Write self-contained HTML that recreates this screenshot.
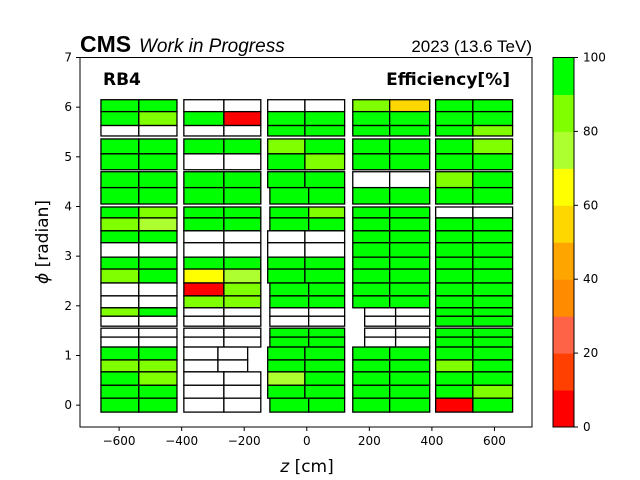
<!DOCTYPE html>
<html><head><meta charset="utf-8"><style>
body{margin:0;background:#fff;}
svg{display:block;font-family:"DejaVu Sans","Liberation Sans",sans-serif;}
</style></head><body>
<svg id="chart" width="640" height="480" viewBox="0 0 640 480" xmlns="http://www.w3.org/2000/svg">
<rect x="0" y="0" width="640" height="480" fill="#fff"/>
<g id="cells"></g>
<rect x="80" y="57.5" width="452" height="369.5" fill="none" stroke="#000" stroke-width="1"/>
<g id="axes"></g>
<text x="80" y="52" font-family="Liberation Sans, sans-serif" font-weight="bold" font-size="23">CMS</text>
<text x="139" y="52" font-family="Liberation Sans, sans-serif" font-style="italic" font-size="19">Work in Progress</text>
<text x="532" y="52" text-anchor="end" font-family="Liberation Sans, sans-serif" font-size="17">2023 (13.6 TeV)</text>
<text x="103" y="85" font-weight="bold" font-size="17">RB4</text>
<text x="510" y="85" text-anchor="end" font-weight="bold" font-size="17">Efficiency[%]</text>
<text x="307" y="472" text-anchor="middle" font-size="17"><tspan font-style="italic">z</tspan> [cm]</text>
<text transform="translate(48,242) rotate(-90)" text-anchor="middle" font-size="17"><tspan font-style="italic">ϕ</tspan> [radian]</text>
<g id="cbar"></g>
</svg>
<script>
const NS="http://www.w3.org/2000/svg";
const xTicks=[-600,-400,-200,0,200,400,600];
const yTicks=[0,1,2,3,4,5,6,7];
const cbTicks=[0,20,40,60,80,100];
const binColors=["#ff0000","#ff4000","#ff6347","#ff8c00","#ffa500","#ffd700","#ffff00","#adff2f","#7fff00","#00ff00"];
const wheelZ=[[-658,-537,-415],[-393,-265,-147],[-125,-6,121],[147,265,393],[412,531,658]];
// rows: [phiLo, phiHi, effLeft, effRight, optional zL, zM, zR] ; null = no data (white)
const wheel1=[[5.91,6.15,95,95],[5.63,5.91,95,85],[5.42,5.63,null,null],[5.06,5.36,95,95],[4.74,5.06,95,95],[4.38,4.70,95,95],[4.05,4.38,95,95],[3.77,3.99,95,85],[3.51,3.77,85,75],[3.27,3.51,95,95],[2.98,3.27,null,null],[2.74,2.98,95,95],[2.46,2.74,85,95],[2.20,2.46,null,null],[1.96,2.20,null,null],[1.79,1.96,85,95],[1.59,1.79,null,null],[1.37,1.55,null,null],[1.17,1.37,null,null],[0.91,1.17,95,95],[0.67,0.91,85,85],[0.40,0.67,95,85],[0.14,0.40,95,95],[-0.14,0.14,95,95]];
const wheel2=[[5.91,6.15,null,null],[5.63,5.91,95,5],[5.42,5.63,null,null],[5.06,5.36,95,95],[4.74,5.06,null,null],[4.38,4.70,95,95],[4.05,4.38,95,95],[3.77,3.99,95,95],[3.51,3.77,95,95],[3.27,3.51,null,null],[2.98,3.27,null,null],[2.74,2.98,95,95],[2.46,2.74,65,75],[2.20,2.46,5,85],[1.96,2.20,85,85],[1.79,1.96,null,null],[1.59,1.79,null,null],[1.37,1.55,null,null],[1.17,1.37,null,null],[0.91,1.17,null,null,-393,-284,-189],[0.67,0.91,null,null,-393,-284,-189],[0.40,0.67,null,null],[0.14,0.40,null,null],[-0.14,0.14,null,null]];
const wheel3=[[5.91,6.15,null,null],[5.63,5.91,95,95],[5.42,5.63,95,95],[5.06,5.36,85,95],[4.74,5.06,95,85],[4.38,4.70,95,95],[4.05,4.38,95,95,-118,6,121],[3.77,3.99,95,85,-118,6,121],[3.51,3.77,95,95,-118,6,121],[3.27,3.51,null,null],[2.98,3.27,null,null],[2.74,2.98,95,95],[2.46,2.74,95,95],[2.20,2.46,95,95,-118,6,121],[1.96,2.20,95,95,-118,6,121],[1.79,1.96,null,null,-118,6,121],[1.59,1.79,null,null,-118,6,121],[1.37,1.55,95,95,-118,6,121],[1.17,1.37,95,95,-118,6,121],[0.91,1.17,95,95],[0.67,0.91,95,95],[0.40,0.67,75,95],[0.14,0.40,95,95],[-0.14,0.14,95,95,-118,6,121]];
const wheel4=[[5.91,6.15,85,55],[5.63,5.91,95,95],[5.42,5.63,95,95],[5.06,5.36,95,95],[4.74,5.06,95,95],[4.38,4.70,null,null],[4.05,4.38,95,95],[3.77,3.99,95,95],[3.51,3.77,95,95],[3.27,3.51,95,95],[2.98,3.27,95,95],[2.74,2.98,95,95],[2.46,2.74,95,95],[2.20,2.46,95,95],[1.96,2.20,95,95],[1.79,1.96,null,null,185,284,393],[1.59,1.79,null,null,185,284,393],[1.37,1.55,null,null,185,284,393],[1.17,1.37,null,null,185,284,393],[0.91,1.17,95,95],[0.67,0.91,95,95],[0.40,0.67,95,95],[0.14,0.40,95,95],[-0.14,0.14,95,95]];
const wheel5=[[5.91,6.15,95,95],[5.63,5.91,95,95],[5.42,5.63,95,85],[5.06,5.36,95,85],[4.74,5.06,95,95],[4.38,4.70,85,95],[4.05,4.38,95,95],[3.77,3.99,null,null],[3.51,3.77,95,95],[3.27,3.51,95,95],[2.98,3.27,95,95],[2.74,2.98,95,95],[2.46,2.74,95,95],[2.20,2.46,95,95],[1.96,2.20,95,95],[1.79,1.96,95,95],[1.59,1.79,95,95],[1.37,1.55,95,95],[1.17,1.37,95,95],[0.91,1.17,95,95],[0.67,0.91,85,95],[0.40,0.67,95,95],[0.14,0.40,95,85],[-0.14,0.14,5,95]];
const wheels=[wheel1,wheel2,wheel3,wheel4,wheel5];

const X0=80,X1=532,Y0=57.5,Y1=427;
const xMin=-725,xMax=720,yMin=-0.44,yMax=7;
const sx=v=>X0+(v-xMin)/(xMax-xMin)*(X1-X0);
const sy=v=>Y1-(v-yMin)/(yMax-yMin)*(Y1-Y0);
const color=e=>e==null?"#ffffff":binColors[Math.min(9,Math.floor(e/10))];

const cells=document.getElementById('cells');
wheels.forEach((rows,wi)=>{
  rows.forEach((r,ri)=>{
    const z=r.length>4?[r[4],r[5],r[6]]:wheelZ[wi];
    [[z[0],z[1],r[2]],[z[1],z[2],r[3]]].forEach((c,ci)=>{
      const rc=document.createElementNS(NS,'rect');
      rc.setAttribute('x',sx(c[0]));
      rc.setAttribute('y',sy(r[1]));
      rc.setAttribute('width',sx(c[1])-sx(c[0]));
      rc.setAttribute('height',sy(r[0])-sy(r[1]));
      rc.setAttribute('fill',color(c[2]));
      rc.setAttribute('stroke','#000');
      rc.setAttribute('stroke-width','1.3');
      
      
      cells.appendChild(rc);
    });
  });
});

const axes=document.getElementById('axes');
function mk(tag,attrs,txt){const e=document.createElementNS(NS,tag);for(const k in attrs)e.setAttribute(k,attrs[k]);if(txt!=null)e.textContent=txt;return e;}
xTicks.forEach(t=>{
  const l=mk('line',{x1:sx(t),x2:sx(t),y1:Y1,y2:Y1+4,stroke:'#000'});
  
  
  axes.appendChild(l);
  const tx=mk('text',{x:sx(t),y:Y1+18,'text-anchor':'middle','font-size':'12'},t<0?'\u2212'+(-t):String(t));
  
  
  axes.appendChild(tx);
});
yTicks.forEach(t=>{
  const l=mk('line',{x1:X0-4,x2:X0,y1:sy(t),y2:sy(t),stroke:'#000'});
  
  
  axes.appendChild(l);
  const tx=mk('text',{x:X0-8,y:sy(t)+4,'text-anchor':'end','font-size':'12'},String(t));
  
  
  axes.appendChild(tx);
});

const cb=document.getElementById('cbar');
const CX0=553,CX1=574,CY0=57.5,CY1=427;
const cy=v=>CY1-v/100*(CY1-CY0);
binColors.forEach((c,i)=>{
  const r=mk('rect',{x:CX0,y:cy((i+1)*10),width:CX1-CX0,height:cy(i*10)-cy((i+1)*10)+0.5,fill:c});
  
  
  cb.appendChild(r);
});
const fr=mk('rect',{x:CX0,y:CY0,width:CX1-CX0,height:CY1-CY0,fill:'none',stroke:'#000'});


cb.appendChild(fr);
cbTicks.forEach(t=>{
  const l=mk('line',{x1:CX1,x2:CX1+4,y1:cy(t),y2:cy(t),stroke:'#000'});
  
  
  cb.appendChild(l);
  const tx=mk('text',{x:CX1+9,y:cy(t)+4,'font-size':'12'},String(t));
  
  
  cb.appendChild(tx);
});
</script>
</body></html>
